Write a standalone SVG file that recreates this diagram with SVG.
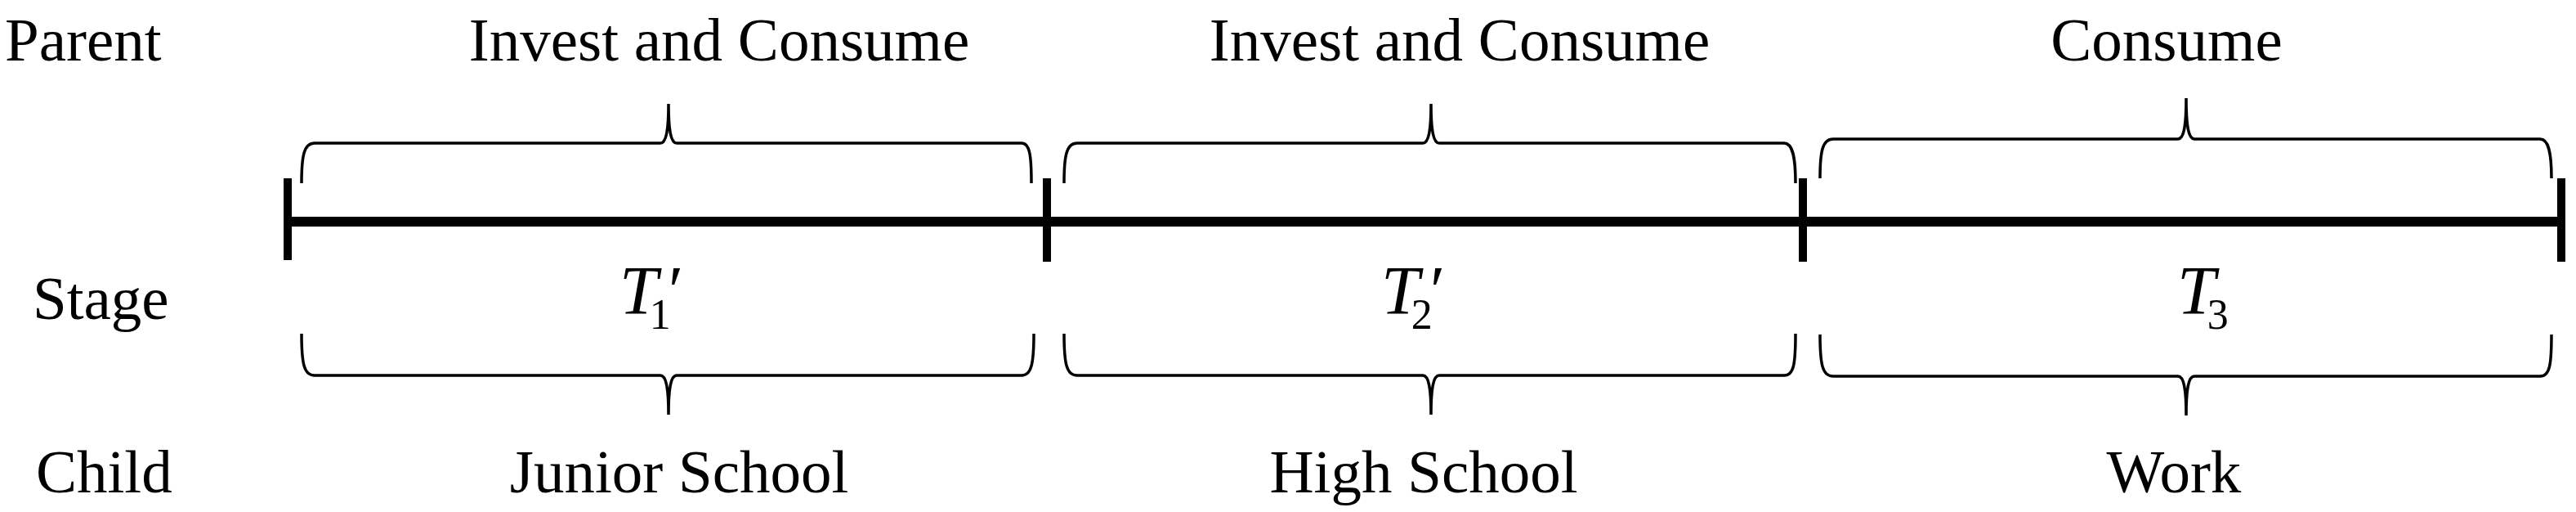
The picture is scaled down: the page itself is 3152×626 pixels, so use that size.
<svg xmlns="http://www.w3.org/2000/svg" width="3152" height="626" viewBox="0 0 3152 626">
<style>
text{font-family:"Liberation Serif","Times New Roman",serif;font-size:75px;fill:#000}
.c{text-anchor:middle}
.i{font-style:italic;font-size:84px}
.s{font-size:52px;font-style:normal}
.b{fill:none;stroke:#000;stroke-width:3.5}
.m{stroke:#000;stroke-width:12}
.t{stroke:#000;stroke-width:10}
</style>
<rect width="3152" height="626" fill="#fff"/>
<g id="labels">
<text x="6" y="74">Parent</text>
<text x="40" y="390">Stage</text>
<text x="44" y="602">Child</text>
</g>
<g id="connectors">
<line class="m" x1="352" y1="271" x2="3134" y2="271"/>
<line class="t" x1="352" y1="218" x2="352" y2="318"/>
<line class="t" x1="1281" y1="218" x2="1281" y2="320"/>
<line class="t" x1="2206" y1="218" x2="2206" y2="320"/>
<line class="t" x1="3134" y1="218" x2="3134" y2="320"/>
</g>
<g id="stage1">
<path class="b" d="M369,224 C369,190 372,175 385,175 L808,175 C815,175 818,160 818,127 C818,160 821,175 828,175 L1250,175 C1260,175 1262,190 1262,224"/>
<path class="b" d="M369,408 C369,445 372,459 385,459 L808,459 C815,459 818,474 818,507 C818,474 821,459 828,459 L1250,459 C1262,459 1265,445 1265,408"/>
<text class="c" x="880" y="74">Invest and Consume</text>
<text class="i" x="758" y="384">T<tspan class="s" dx="-10" dy="18">1</tspan><tspan dx="-8" dy="-18">′</tspan></text>
<text class="c" x="831" y="602">Junior School</text>
</g>
<g id="stage2">
<path class="b" d="M1302,224 C1302,190 1305,175 1318,175 L1741,175 C1748,175 1751,160 1751,127 C1751,160 1754,175 1761,175 L2183,175 C2193,175 2197,190 2197,224"/>
<path class="b" d="M1302,408 C1302,445 1305,459 1318,459 L1741,459 C1748,459 1751,474 1751,507 C1751,474 1754,459 1761,459 L2183,459 C2195,459 2197,445 2197,408"/>
<text class="c" x="1786" y="74">Invest and Consume</text>
<text class="i" x="1690" y="384">T<tspan class="s" dx="-10" dy="18">2</tspan><tspan dx="-8" dy="-18">′</tspan></text>
<text class="c" x="1742" y="602">High School</text>
</g>
<g id="stage3">
<path class="b" d="M2227,218 C2227,185 2230,170 2243,170 L2665,170 C2672,170 2675,155 2675,120 C2675,155 2678,170 2685,170 L3108,170 C3118,170 3122,185 3122,218"/>
<path class="b" d="M2227,409 C2227,446 2230,460 2243,460 L2665,460 C2672,460 2675,475 2675,508 C2675,475 2678,460 2685,460 L3108,460 C3120,460 3122,446 3122,409"/>
<text class="c" x="2651" y="74">Consume</text>
<text class="i" x="2664" y="384">T<tspan class="s" dx="-10" dy="18">3</tspan></text>
<text class="c" x="2660" y="602">Work</text>
</g>
</svg>
